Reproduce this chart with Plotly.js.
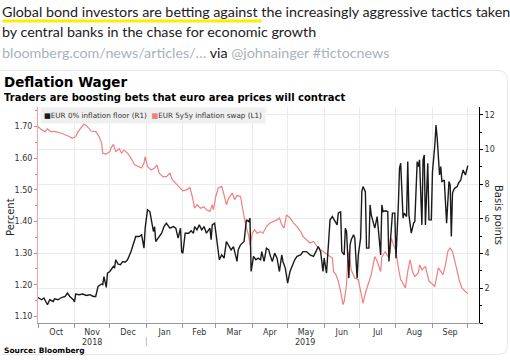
<!DOCTYPE html>
<html><head><meta charset="utf-8">
<script src="https://cdn.plot.ly/plotly-3.0.1.min.js"></script>
<style>html,body{margin:0;padding:0;background:#fff}#chart{width:510px;height:361px}</style>
</head><body><div id="chart"></div>
<script>
// ---- data ----
const redDates = ['2018-10-01','2018-10-04','2018-10-07','2018-10-09','2018-10-12','2018-10-16','2018-10-21','2018-10-25','2018-10-28','2018-10-30',
'2018-11-02','2018-11-04','2018-11-07','2018-11-09','2018-11-12','2018-11-15','2018-11-19','2018-11-22','2018-11-24','2018-11-25','2018-11-28',
'2018-12-01','2018-12-02','2018-12-04','2018-12-06','2018-12-09','2018-12-11','2018-12-13','2018-12-16','2018-12-19','2018-12-22','2018-12-25','2018-12-28','2018-12-30','2018-12-31',
'2019-01-02','2019-01-05','2019-01-08','2019-01-10','2019-01-12','2019-01-15','2019-01-18','2019-01-21','2019-01-23','2019-01-26','2019-01-29',
'2019-02-01','2019-02-04','2019-02-07','2019-02-09','2019-02-11','2019-02-13','2019-02-16','2019-02-19','2019-02-21','2019-02-24','2019-02-26','2019-02-27',
'2019-03-01','2019-03-03','2019-03-06','2019-03-08','2019-03-10','2019-03-12','2019-03-15','2019-03-17','2019-03-19','2019-03-22','2019-03-24','2019-03-26','2019-03-29','2019-03-30',
'2019-04-01','2019-04-03','2019-04-05','2019-04-08','2019-04-10','2019-04-13','2019-04-16','2019-04-19','2019-04-22','2019-04-24','2019-04-26','2019-04-28','2019-04-30',
'2019-05-03','2019-05-06','2019-05-09','2019-05-12','2019-05-14','2019-05-17','2019-05-20','2019-05-23','2019-05-26','2019-05-29','2019-05-31',
'2019-06-03','2019-06-06','2019-06-08','2019-06-09','2019-06-11','2019-06-13','2019-06-15','2019-06-17','2019-06-18','2019-06-20','2019-06-21','2019-06-22','2019-06-24','2019-06-27','2019-06-30',
'2019-07-02','2019-07-04','2019-07-06','2019-07-09','2019-07-11','2019-07-14','2019-07-16','2019-07-19','2019-07-20','2019-07-23','2019-07-25','2019-07-27','2019-07-28','2019-07-30',
'2019-08-01','2019-08-03','2019-08-05','2019-08-06','2019-08-09','2019-08-11','2019-08-13','2019-08-15','2019-08-17','2019-08-20','2019-08-21','2019-08-23','2019-08-26','2019-08-29','2019-08-31',
'2019-09-03','2019-09-06','2019-09-08','2019-09-10','2019-09-12','2019-09-14','2019-09-16','2019-09-18','2019-09-20','2019-09-23','2019-09-24','2019-09-26','2019-09-29','2019-10-01'];
const redValues = [1.700,1.690,1.684,1.693,1.684,1.684,1.679,1.674,1.668,1.663,
1.668,1.684,1.700,1.708,1.700,1.686,1.684,1.668,1.648,1.616,1.613,
1.621,1.632,1.644,1.621,1.630,1.616,1.626,1.616,1.600,1.579,1.574,1.569,1.584,1.605,
1.574,1.563,1.569,1.579,1.553,1.542,1.542,1.553,1.532,1.521,1.507,
1.497,1.500,1.507,1.479,1.442,1.453,1.442,1.447,1.437,1.432,1.453,1.437,
1.479,1.505,1.511,1.484,1.453,1.474,1.490,1.469,1.482,1.479,1.432,1.395,1.353,1.326,
1.363,1.374,1.363,1.368,1.363,1.384,1.395,1.400,1.405,1.411,1.390,1.379,1.421,
1.411,1.395,1.384,1.368,1.353,1.342,1.332,1.337,1.321,1.311,1.305,
1.295,1.289,1.284,1.242,1.232,1.211,1.179,1.137,1.147,1.200,1.274,1.305,1.247,1.221,1.216,
1.179,1.142,1.174,1.205,1.232,1.289,1.274,1.242,1.289,1.305,1.289,1.300,1.347,1.326,
1.305,1.253,1.216,1.211,1.190,1.242,1.279,1.242,1.226,1.237,1.263,1.247,1.258,1.211,1.205,
1.195,1.253,1.242,1.232,1.263,1.305,1.316,1.305,1.274,1.221,1.211,1.190,1.179,1.171];

const blackDates = ['2018-10-01','2018-10-04','2018-10-06','2018-10-09','2018-10-11','2018-10-14','2018-10-15','2018-10-18','2018-10-21','2018-10-24','2018-10-26','2018-10-28','2018-10-31',
'2018-11-01','2018-11-02','2018-11-05','2018-11-08','2018-11-11','2018-11-14','2018-11-17','2018-11-19','2018-11-21','2018-11-24','2018-11-25','2018-11-26','2018-11-28','2018-11-29',
'2018-12-01','2018-12-04','2018-12-05','2018-12-06','2018-12-08','2018-12-10','2018-12-12','2018-12-14','2018-12-16','2018-12-19','2018-12-21','2018-12-23','2018-12-26','2018-12-28','2018-12-30','2018-12-31',
'2019-01-02','2019-01-04','2019-01-05','2019-01-07','2019-01-08','2019-01-09','2019-01-11','2019-01-14','2019-01-16','2019-01-18','2019-01-21','2019-01-24','2019-01-26','2019-01-28','2019-01-30','2019-01-31',
'2019-02-01','2019-02-03','2019-02-06','2019-02-08','2019-02-10','2019-02-11','2019-02-13','2019-02-15','2019-02-17','2019-02-19','2019-02-21','2019-02-24','2019-02-25','2019-02-26','2019-02-28',
'2019-03-02','2019-03-04','2019-03-06','2019-03-08','2019-03-10','2019-03-12','2019-03-14','2019-03-16','2019-03-17','2019-03-19','2019-03-20','2019-03-22','2019-03-25','2019-03-27','2019-03-29','2019-03-30','2019-03-31',
'2019-04-02','2019-04-04','2019-04-06','2019-04-08','2019-04-09','2019-04-11','2019-04-13','2019-04-15','2019-04-16','2019-04-18','2019-04-20','2019-04-22','2019-04-24','2019-04-26','2019-04-27','2019-04-29',
'2019-05-01','2019-05-03','2019-05-05','2019-05-07','2019-05-09','2019-05-12','2019-05-14','2019-05-17','2019-05-20','2019-05-23','2019-05-25','2019-05-27','2019-05-29','2019-05-31',
'2019-06-01','2019-06-03','2019-06-05','2019-06-06','2019-06-08','2019-06-10','2019-06-12','2019-06-13','2019-06-15','2019-06-16','2019-06-18','2019-06-19','2019-06-20','2019-06-22','2019-06-23','2019-06-24','2019-06-26','2019-06-27','2019-06-29','2019-06-30',
'2019-07-02','2019-07-03','2019-07-04','2019-07-06','2019-07-07','2019-07-09','2019-07-10','2019-07-11','2019-07-13','2019-07-14','2019-07-16','2019-07-17','2019-07-19','2019-07-20','2019-07-21','2019-07-23','2019-07-25','2019-07-26','2019-07-28','2019-07-29','2019-07-31',
'2019-08-01','2019-08-03','2019-08-04','2019-08-05','2019-08-07','2019-08-08','2019-08-10','2019-08-11','2019-08-12','2019-08-14','2019-08-16','2019-08-17','2019-08-19','2019-08-20','2019-08-21','2019-08-23','2019-08-24','2019-08-25','2019-08-26','2019-08-28','2019-08-29','2019-08-31',
'2019-09-01','2019-09-03','2019-09-04','2019-09-05','2019-09-07','2019-09-08','2019-09-09','2019-09-11','2019-09-12','2019-09-13','2019-09-15','2019-09-16','2019-09-17','2019-09-18','2019-09-19','2019-09-20','2019-09-22','2019-09-23','2019-09-25','2019-09-26','2019-09-27','2019-09-29','2019-09-30','2019-10-01'];
const blackValues = [1.47,1.34,1.44,1.05,1.34,1.24,1.40,1.34,1.47,1.53,1.73,1.53,1.34,
1.21,1.67,1.63,1.67,1.59,1.63,1.53,1.53,2.11,2.25,2.21,2.68,2.05,2.88,
2.97,3.26,3.17,3.65,3.40,3.36,3.55,3.51,3.65,4.12,4.51,4.99,4.99,5.09,4.32,5.47,
6.53,6.43,6.05,5.28,5.56,4.70,4.90,5.18,5.56,5.76,5.47,5.56,5.47,4.90,5.47,4.10,
4.03,5.18,5.18,5.32,5.18,5.56,5.37,5.66,5.37,5.56,5.18,5.47,4.80,5.66,5.76,
4.51,3.65,3.93,3.74,4.70,4.41,4.22,4.41,4.12,3.55,4.22,4.51,4.70,5.95,5.85,6.05,2.97,
3.84,3.65,3.74,3.65,4.12,3.55,4.32,4.22,3.93,3.55,4.03,3.74,2.97,3.93,3.55,3.17,
2.30,2.97,3.36,3.65,3.84,3.93,4.12,4.12,3.93,3.84,4.12,4.41,4.12,2.97,
3.74,2.88,4.90,5.95,6.14,5.85,5.66,6.34,6.43,4.12,3.93,5.47,5.28,2.59,4.51,4.80,5.09,4.90,2.59,3.93,
4.90,7.58,7.87,7.58,4.32,4.32,6.81,6.24,5.66,5.47,6.14,5.47,3.93,6.81,6.43,6.47,6.43,3.55,5.28,6.34,6.34,
3.74,6.81,8.93,9.22,6.05,6.34,6.14,9.31,6.24,5.18,5.76,5.85,9.31,9.02,9.41,5.66,9.41,9.69,5.66,9.22,5.95,5.95,
8.73,10.27,11.42,10.66,8.54,9.02,8.16,8.25,6.43,5.76,8.16,7.97,4.99,7.49,7.68,7.78,7.87,8.06,8.25,8.54,8.83,8.54,8.93,9.08];

const seriesNames = ['EUR 0% inflation floor (R1)', 'EUR 5y5y inflation swap (L1)'];
const seriesColors = ['#1a1a1a', '#f07f7f'];
const yearLabels = ['2018', '2019'];
const yearLabelDates = ['2018-11-16', '2019-05-16'];
const rightTickVals = [0, 2, 4, 6, 8, 10, 12];
const rightTickText = ['', '2', '4', '6', '8', '10', '12'];
const chartTitle = 'Deflation Wager';
const chartSubtitle = 'Traders are boosting bets that euro area prices will contract';
const leftAxisTitle = 'Percent';
const rightAxisTitle = 'Basis points';
const sourceText = 'Source: Bloomberg';
const tweetLines = [
  'Global bond investors are betting against the increasingly aggressive tactics taken',
  'by central banks in the chase for economic growth'
];
const tweetLink = 'bloomberg.com/news/articles/…';
const tweetVia = 'via';
const tweetHandles = '@johnainger #tictocnews';

// ---- layout geometry ----
const W = 510, H = 361, L = 38, R = 31, T = 107, B = 38;
const PW = W - L - R, PH = H - T - B;
const X = px => (px - L) / PW;
const Y = py => (H - B - py) / PH;
const FONT = 'DejaVu Sans';
const TWFONT = 'Lato';
const TWSIZE = 14.3;

const traces = [
  {x: redDates, y: redValues, name: seriesNames[1], type: 'scatter', mode: 'lines',
   line: {color: seriesColors[1], width: 1.2}, yaxis: 'y', showlegend: false, hoverinfo: 'skip'},
  {x: blackDates, y: blackValues, name: seriesNames[0], type: 'scatter', mode: 'lines',
   line: {color: seriesColors[0], width: 1.4}, yaxis: 'y2', showlegend: false, hoverinfo: 'skip'}
];

const ann = [];
ann.push({text: tweetLines[0], x: X(0), y: Y(12), xref: 'paper', yref: 'paper', xanchor: 'left', yanchor: 'middle', showarrow: false, font: {family: TWFONT, size: TWSIZE, color: '#1c2022'}});
ann.push({text: tweetLines[1], x: X(0), y: Y(32), xref: 'paper', yref: 'paper', xanchor: 'left', yanchor: 'middle', showarrow: false, font: {family: TWFONT, size: TWSIZE, color: '#1c2022'}});
ann.push({text: '<span style="color:#aab2b9">' + tweetLink + '</span> ' + tweetVia + ' <span style="color:#aab2b9">' + tweetHandles + '</span>',
  x: X(0), y: Y(52), xref: 'paper', yref: 'paper', xanchor: 'left', yanchor: 'middle', showarrow: false, font: {family: TWFONT, size: TWSIZE, color: '#1c2022'}});
ann.push({text: '<b>' + chartTitle + '</b>', x: X(2), y: Y(82), xref: 'paper', yref: 'paper', xanchor: 'left', yanchor: 'middle', showarrow: false, font: {family: FONT, size: 13.5, color: '#000'}});
ann.push({text: '<b>' + chartSubtitle + '</b>', x: X(2), y: Y(97), xref: 'paper', yref: 'paper', xanchor: 'left', yanchor: 'middle', showarrow: false, font: {family: FONT, size: 10, color: '#000'}});
ann.push({text: '<span style="color:' + seriesColors[0] + '">■</span>' + seriesNames[0] + '  <span style="color:' + seriesColors[1] + '">■</span>' + seriesNames[1],
  x: X(40), y: Y(115), xref: 'paper', yref: 'paper', xanchor: 'left', yanchor: 'middle', showarrow: false, bgcolor: '#efefef', borderpad: 3,
  font: {family: FONT, size: 7.2, color: '#333'}});
ann.push({text: '<b>' + sourceText + '</b>', x: X(2), y: Y(350), xref: 'paper', yref: 'paper', xanchor: 'left', yanchor: 'middle', showarrow: false, font: {family: FONT, size: 7.5, color: '#000'}});
ann.push({text: leftAxisTitle, x: X(10), y: Y(217), xref: 'paper', yref: 'paper', xanchor: 'center', yanchor: 'middle', textangle: -90, showarrow: false, font: {family: FONT, size: 10, color: '#222'}});
ann.push({text: rightAxisTitle, x: X(499), y: Y(215), xref: 'paper', yref: 'paper', xanchor: 'center', yanchor: 'middle', textangle: 90, showarrow: false, font: {family: FONT, size: 10, color: '#222'}});
yearLabels.forEach((t, i) => ann.push({text: t, x: yearLabelDates[i], y: Y(342), xref: 'x', yref: 'paper', xanchor: 'center', yanchor: 'middle', showarrow: false, font: {family: FONT, size: 8, color: '#333'}}));

const cardPath = `M ${X(-3)},${Y(70.5)} L ${X(497.5)},${Y(70.5)} Q ${X(507.5)},${Y(70.5)} ${X(507.5)},${Y(80.5)} L ${X(507.5)},${Y(344.5)} Q ${X(507.5)},${Y(354.5)} ${X(497.5)},${Y(354.5)} L ${X(-3)},${Y(354.5)}`;
const shapes = [
  {type: 'path', path: cardPath, xref: 'paper', yref: 'paper', line: {color: '#e1e8ed', width: 1}},
  {type: 'line', x0: X(2.5), x1: X(261.5), y0: Y(21), y1: Y(21), xref: 'paper', yref: 'paper', line: {color: '#ffec00', width: 3}},
  {type: 'line', x0: '2019-01-01', x1: '2019-01-01', y0: Y(337), y1: Y(346), xref: 'x', yref: 'paper', line: {color: '#bbbbbb', width: 1}}
];

const layout = {
  width: W, height: H,
  margin: {l: L, r: R, t: T, b: B, pad: 0},
  paper_bgcolor: '#fff', plot_bgcolor: '#fff',
  showlegend: false,
  font: {family: FONT, size: 8, color: '#222'},
  xaxis: {type: 'date', range: ['2018-10-01', '2019-10-10 12:00'], tickmode: 'linear', tick0: '2018-10-01', dtick: 'M1',
    ticklabelmode: 'period', tickformat: '%b', ticks: 'outside', ticklen: 4, tickcolor: '#999', ticklabelstandoff: -3,
    showline: true, linecolor: '#999', linewidth: 1,
    showgrid: true, gridcolor: '#ebebeb', gridwidth: 1, zeroline: false, tickfont: {family: FONT, size: 8, color: '#333'}, fixedrange: true},
  yaxis: {range: [1.079, 1.762], tick0: 1.1, dtick: 0.1, tickformat: '.2f', showgrid: false, zeroline: false,
    showline: true, linecolor: '#f4a3a3', linewidth: 1, ticks: 'outside', ticklen: 3, tickcolor: '#ee7777',
    minor: {ticks: 'outside', dtick: 0.05, ticklen: 2, tickcolor: '#ee7777', showgrid: false},
    tickfont: {family: FONT, size: 8, color: '#333'}, fixedrange: true},
  yaxis2: {overlaying: 'y', side: 'right', range: [0, 12.46], tickmode: 'array', tickvals: rightTickVals, ticktext: rightTickText,
    showgrid: true, gridcolor: '#ebebeb', gridwidth: 1, zeroline: false, showline: true, linecolor: '#000', linewidth: 1,
    ticks: 'outside', ticklen: 3, tickcolor: '#000', minor: {ticks: 'outside', dtick: 1, ticklen: 2, tickcolor: '#000', showgrid: false},
    tickfont: {family: FONT, size: 8, color: '#333'}, fixedrange: true},
  annotations: ann,
  shapes: shapes
};

Plotly.newPlot('chart', traces, layout, {staticPlot: true, displayModeBar: false});
</script></body></html>
